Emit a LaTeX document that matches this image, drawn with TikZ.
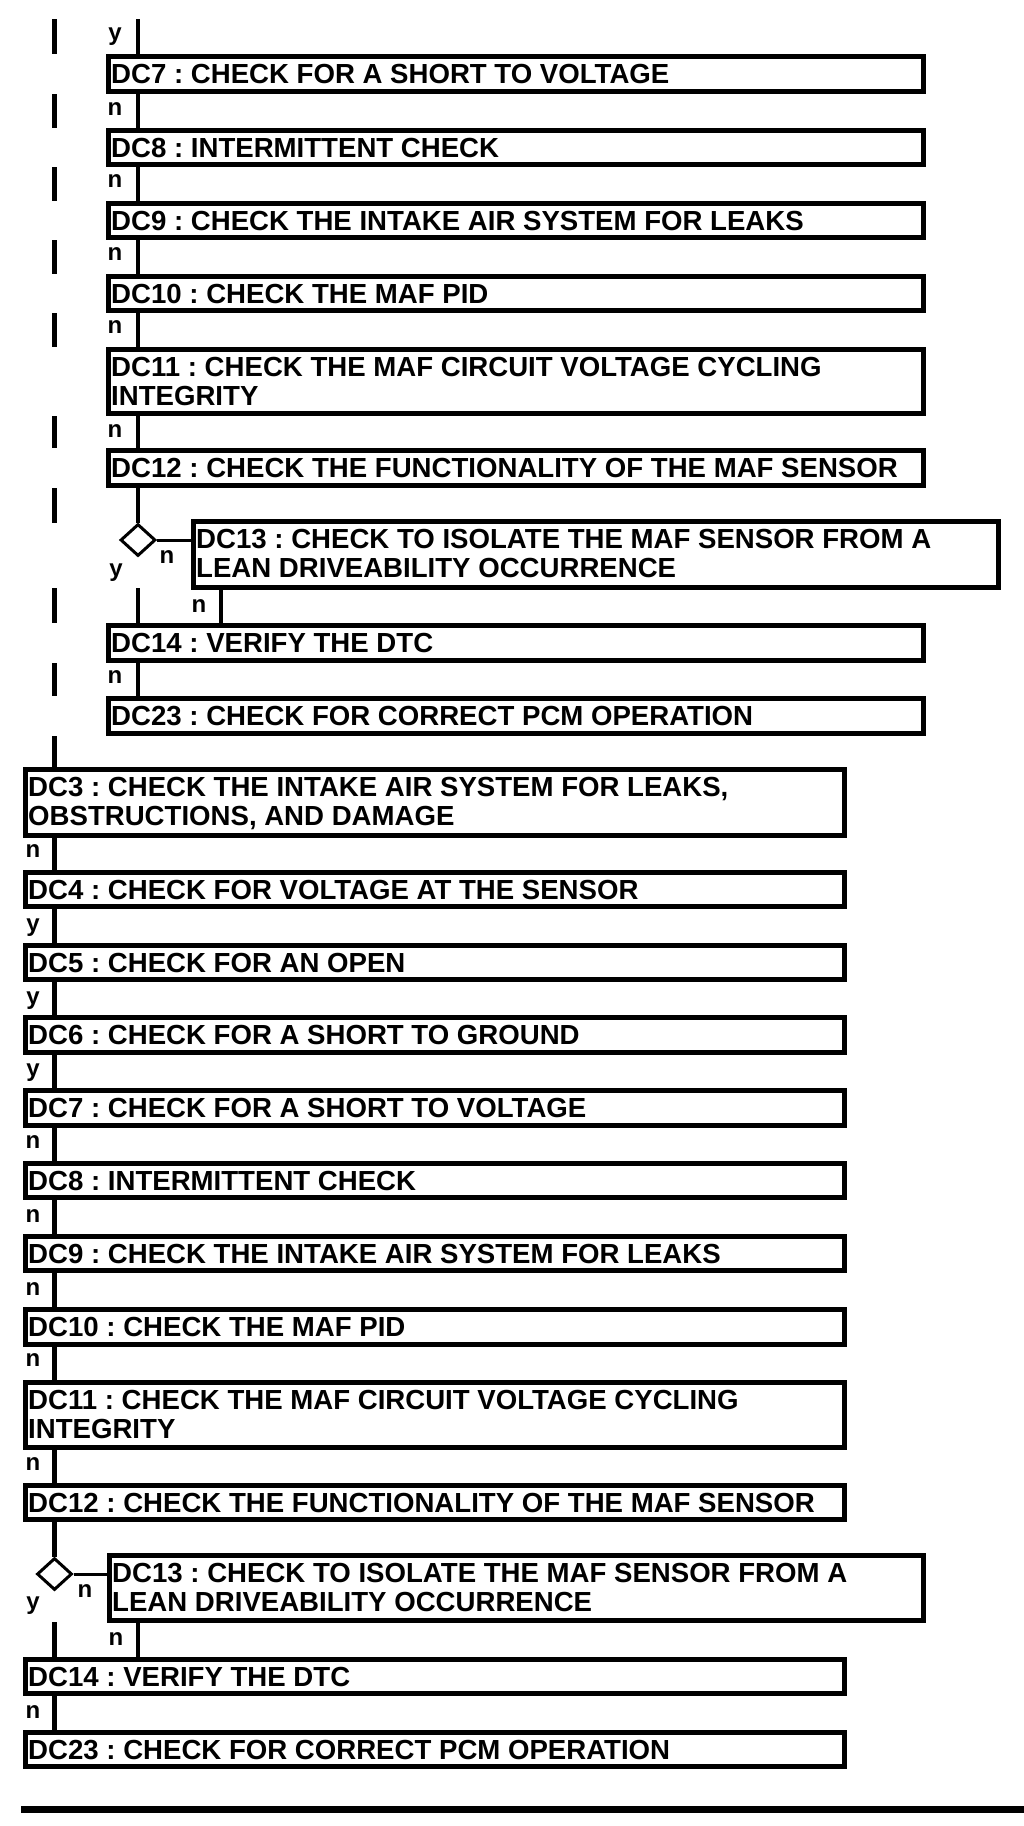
\documentclass[tikz,border=0pt]{standalone}
\usepackage{fontspec}
\setmainfont{Liberation Sans}
\usetikzlibrary{shapes.geometric,calc}
\frenchspacing
\tikzset{
  box/.style={draw, line width=5pt, rectangle, inner sep=0pt},
  dia/.style={draw, line width=3pt, diamond, inner sep=0pt, minimum width=35pt, minimum height=32pt},
  txt/.style={inner sep=0pt, font=\fontsize{27.6}{29}\selectfont\bfseries, anchor=base west},
  lab/.style={inner sep=0pt, font=\fontsize{24}{26}\selectfont\bfseries, anchor=base},
  conn/.style={line width=4.5pt},
  thinconn/.style={line width=3pt},
  barline/.style={line width=5pt},
  ruleline/.style={line width=7pt},
}
% name, L, T, R, B  (outer pixel edges)
\newcommand\dcbox[5]{\node[box, minimum width={(#4-#2-5)*1pt}, minimum height={(#5-#3-5)*1pt}] (#1) at ({(#2+#4)/2},{(#3+#5)/2}) {};}
\newcommand\dctext[3]{\node[txt] (#1) at ([xshift=5pt,yshift=-29pt]#2.north west) {#3};}
\newcommand\dctwo[4]{\node[txt] (#1) at ([xshift=5pt,yshift=-29pt]#2.north west) {\parbox[t]{880pt}{\raggedright #3\\#4}};}
\begin{document}
\begin{tikzpicture}[x=1pt,y=-1pt]
\useasboundingbox (0,0) rectangle (1024,1826);

% ---------- upper section ----------
\dcbox{U7}{106}{54}{926}{94}
\dcbox{U8}{106}{128}{926}{167}
\dcbox{U9}{106}{201}{926}{240}
\dcbox{U10}{106}{274}{926}{313}
\dcbox{U11}{106}{347}{926}{416}
\dcbox{U12}{106}{448}{926}{488}
\dcbox{U13}{191}{519}{1001}{590}
\dcbox{U14}{106}{623}{926}{663}
\dcbox{U23}{106}{696}{926}{736}
\node[dia] (ud) at (138,540) {};

\dctext{tU7}{U7}{DC7 : CHECK FOR A SHORT TO VOLTAGE}
\dctext{tU8}{U8}{DC8 : INTERMITTENT CHECK}
\dctext{tU9}{U9}{DC9 : CHECK THE INTAKE AIR SYSTEM FOR LEAKS}
\dctext{tU10}{U10}{DC10 : CHECK THE MAF PID}
\dctwo{tU11}{U11}{DC11 : CHECK THE MAF CIRCUIT VOLTAGE CYCLING}{INTEGRITY}
\dctext{tU12}{U12}{DC12 : CHECK THE FUNCTIONALITY OF THE MAF SENSOR}
\dctwo{tU13}{U13}{DC13 : CHECK TO ISOLATE THE MAF SENSOR FROM A}{LEAN DRIVEABILITY OCCURRENCE}
\dctext{tU14}{U14}{DC14 : VERIFY THE DTC}
\dctext{tU23}{U23}{DC23 : CHECK FOR CORRECT PCM OPERATION}

% ---------- lower section ----------
\dcbox{L3}{23}{767}{847}{838}
\dcbox{L4}{23}{870}{847}{909}
\dcbox{L5}{23}{943}{847}{982}
\dcbox{L6}{23}{1015}{847}{1055}
\dcbox{L7}{23}{1088}{847}{1128}
\dcbox{L8}{23}{1161}{847}{1200}
\dcbox{L9}{23}{1234}{847}{1273}
\dcbox{L10}{23}{1307}{847}{1347}
\dcbox{L11}{23}{1380}{847}{1450}
\dcbox{L12}{23}{1483}{847}{1522}
\dcbox{L13}{107}{1553}{926}{1623}
\dcbox{L14}{23}{1657}{847}{1696}
\dcbox{L23}{23}{1730}{847}{1769}
\node[dia] (ld) at (54.5,1574) {};

\dctwo{tL3}{L3}{DC3 : CHECK THE INTAKE AIR SYSTEM FOR LEAKS,}{OBSTRUCTIONS, AND DAMAGE}
\dctext{tL4}{L4}{DC4 : CHECK FOR VOLTAGE AT THE SENSOR}
\dctext{tL5}{L5}{DC5 : CHECK FOR AN OPEN}
\dctext{tL6}{L6}{DC6 : CHECK FOR A SHORT TO GROUND}
\dctext{tL7}{L7}{DC7 : CHECK FOR A SHORT TO VOLTAGE}
\dctext{tL8}{L8}{DC8 : INTERMITTENT CHECK}
\dctext{tL9}{L9}{DC9 : CHECK THE INTAKE AIR SYSTEM FOR LEAKS}
\dctext{tL10}{L10}{DC10 : CHECK THE MAF PID}
\dctwo{tL11}{L11}{DC11 : CHECK THE MAF CIRCUIT VOLTAGE CYCLING}{INTEGRITY}
\dctext{tL12}{L12}{DC12 : CHECK THE FUNCTIONALITY OF THE MAF SENSOR}
\dctwo{tL13}{L13}{DC13 : CHECK TO ISOLATE THE MAF SENSOR FROM A}{LEAN DRIVEABILITY OCCURRENCE}
\dctext{tL14}{L14}{DC14 : VERIFY THE DTC}
\dctext{tL23}{L23}{DC23 : CHECK FOR CORRECT PCM OPERATION}

% ---------- helper coordinates ----------
\coordinate (ux) at (138,0);
\coordinate (bx) at (54.5,0);
\coordinate (u13x) at (221,0);
\coordinate (utop) at (138,19);
\coordinate (uyb) at (138,588);
\coordinate (lyb) at (54.5,1622);
\coordinate (rl) at (21,1809.5);
\coordinate (rr) at (1024,1809.5);

% ---------- upper connectors ----------
\draw[conn] (utop) -- (ux |- U7.north);
\draw[conn] (ux |- U7.south) -- (ux |- U8.north);
\draw[conn] (ux |- U8.south) -- (ux |- U9.north);
\draw[conn] (ux |- U9.south) -- (ux |- U10.north);
\draw[conn] (ux |- U10.south) -- (ux |- U11.north);
\draw[conn] (ux |- U11.south) -- (ux |- U12.north);
\draw[conn] (ux |- U12.south) -- (ud.north);
\draw[thinconn] (ud.east) -- (ud.east -| U13.west);
\draw[conn] (uyb) -- (ux |- U14.north);
\draw[conn] (u13x |- U13.south) -- (u13x |- U14.north);
\draw[conn] (ux |- U14.south) -- (ux |- U23.north);

% left bar (through-line)
\draw[barline] (bx |- utop) -- (bx |- U7.north);
\draw[barline] (bx |- U7.south) -- (bx |- U8.north);
\draw[barline] (bx |- U8.south) -- (bx |- U9.north);
\draw[barline] (bx |- U9.south) -- (bx |- U10.north);
\draw[barline] (bx |- U10.south) -- (bx |- U11.north);
\draw[barline] (bx |- U11.south) -- (bx |- U12.north);
\draw[barline] (bx |- U12.south) -- (bx |- ud.north);
\draw[barline] (bx |- uyb) -- (bx |- U14.north);
\draw[barline] (bx |- U14.south) -- (bx |- U23.north);
\draw[barline] (bx |- U23.south) -- (bx |- L3.north);

% ---------- lower connectors ----------
\draw[conn] (bx |- L3.south) -- (bx |- L4.north);
\draw[conn] (bx |- L4.south) -- (bx |- L5.north);
\draw[conn] (bx |- L5.south) -- (bx |- L6.north);
\draw[conn] (bx |- L6.south) -- (bx |- L7.north);
\draw[conn] (bx |- L7.south) -- (bx |- L8.north);
\draw[conn] (bx |- L8.south) -- (bx |- L9.north);
\draw[conn] (bx |- L9.south) -- (bx |- L10.north);
\draw[conn] (bx |- L10.south) -- (bx |- L11.north);
\draw[conn] (bx |- L11.south) -- (bx |- L12.north);
\draw[conn] (bx |- L12.south) -- (ld.north);
\draw[thinconn] (ld.east) -- (ld.east -| L13.west);
\draw[conn] (lyb) -- (bx |- L14.north);
\draw[conn] (ux |- L13.south) -- (ux |- L14.north);
\draw[conn] (bx |- L14.south) -- (bx |- L23.north);

\draw[ruleline] (rl) -- (rr);

% ---------- labels ----------
\node[lab] (la1) at (115,40) {y};
\node[lab] (la2) at (115,115) {n};
\node[lab] (la3) at (115,187) {n};
\node[lab] (la4) at (115,260) {n};
\node[lab] (la5) at (115,333) {n};
\node[lab] (la6) at (115,437) {n};
\node[lab] (la7) at (167,563) {n};
\node[lab] (la8) at (116,576) {y};
\node[lab] (la9) at (199,612) {n};
\node[lab] (la10) at (115,683) {n};

\node[lab] (lb1) at (33,857) {n};
\node[lab] (lb2) at (33,931) {y};
\node[lab] (lb3) at (33,1004) {y};
\node[lab] (lb4) at (33,1076) {y};
\node[lab] (lb5) at (33,1148) {n};
\node[lab] (lb6) at (33,1222) {n};
\node[lab] (lb7) at (33,1295) {n};
\node[lab] (lb8) at (33,1366) {n};
\node[lab] (lb9) at (33,1470) {n};
\node[lab] (lb10) at (85,1597) {n};
\node[lab] (lb11) at (33,1609) {y};
\node[lab] (lb12) at (116,1645) {n};
\node[lab] (lb13) at (33,1718) {n};
\end{tikzpicture}
\end{document}
